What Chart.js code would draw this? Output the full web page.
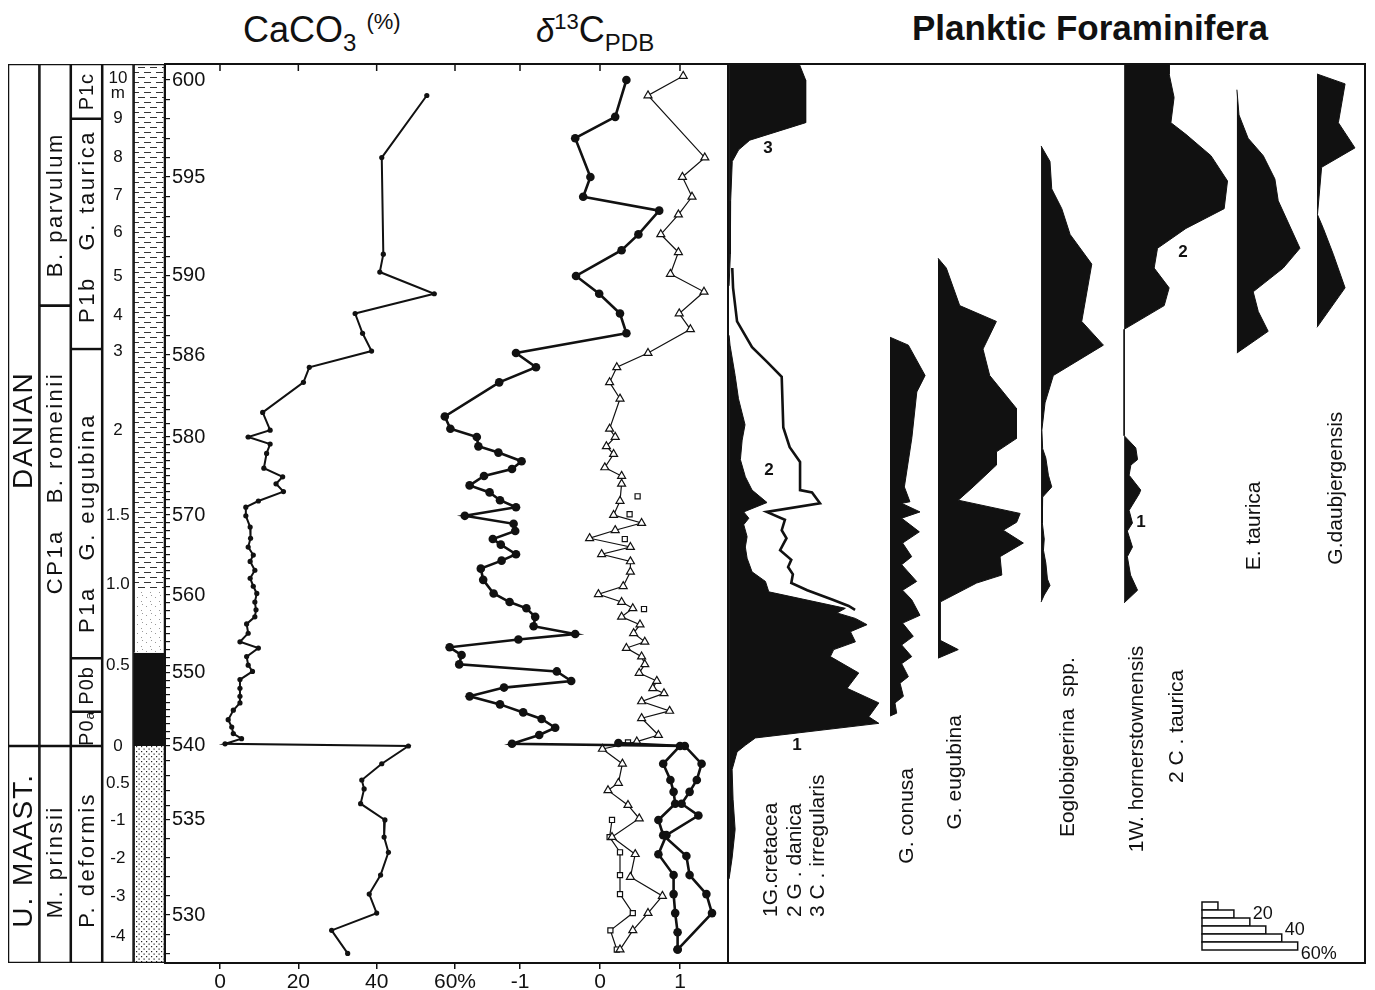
<!DOCTYPE html>
<html>
<head>
<meta charset="utf-8">
<title>CaCO3, d13C and planktic foraminifera</title>
<script src="https://cdn.jsdelivr.net/npm/chart.js@4.4.1/dist/chart.umd.min.js"></script>
<style>
  body { margin: 0; background: #fff; }
  #wrap { position: relative; width: 1375px; height: 990px; background: #fff; overflow: hidden;
          font-family: 'Liberation Sans', Arial, Helvetica, sans-serif; color: #111; }
  #wrap canvas { position: absolute; top: 0; }
  .ttl { position: absolute; white-space: nowrap; line-height: 1; }
  .ttl span { position: relative; }
</style>
</head>
<body>
<div id="wrap">
  <div class="ttl" style="left:243px; top:12px; font-size:36px;">CaCO<span style="font-size:24px; top:9px;">3</span> <span style="font-size:22px; top:-13px;">(%)</span></div>
  <div class="ttl" style="left:536px; top:12px; font-size:36px;"><i style="font-size:33px;">δ</i><span style="font-size:22px; top:-13px;">13</span>C<span style="font-size:24px; top:9px;">PDB</span></div>
  <div class="ttl" style="left:912px; top:10px; font-size:35px; font-weight:bold;">Planktic Foraminifera</div>

  <canvas id="strat" width="215" height="990" style="left:0;"></canvas>
  <canvas id="caco3" width="385" height="990" style="left:125px;"></canvas>
  <canvas id="carbon" width="383" height="990" style="left:384px;"></canvas>
  <canvas id="foram" width="640" height="990" style="left:727px;"></canvas>
</div>

<script>
// ---- depth axis: sample numbers, stretched piecewise as in the original log ----
const sampleStops = [527.5, 530, 535, 540, 550, 560, 570, 580, 586, 590, 595, 600, 600.8];
const stopHeights = [0, 0.0534, 0.1591, 0.2414, 0.3226, 0.4093, 0.4983, 0.5851, 0.6763, 0.7642, 0.8743, 0.9822, 1];
const sampleTickLabels = [530, 535, 540, 550, 560, 570, 580, 586, 590, 595, 600];

// metre scale written in the log column (position given as sample number)
const meterLabels = ['10', 'm', '9', '8', '7', '6', '5', '4', '3', '2', '1.5', '1.0', '0.5', '0', '0.5', '-1', '-2', '-3', '-4'];
const meterAt = [600.1, 599.3, 598.0, 596.0, 594.1, 592.2, 590.0, 588.0, 586.2, 580.5, 570.0, 561.3, 551.0, 540.0, 537.5, 535.0, 533.0, 531.0, 528.9];

// stratigraphic columns (label position given as sample number)
const eraNames = ['DANIAN', 'U. MAAST.'];
const eraTop = [600.8, 540];
const eraBase = [540, 527.5];
const eraLabelAt = [580.5, 533.4];
const nannoNames = ['B. parvulum', 'CP1a   B. romeinii', 'M. prinsii'];
const nannoTop = [600.8, 588.5, 540];
const nannoBase = [588.5, 540, 527.5];
const nannoLabelAt = [593.6, 574.1, 532.8];
const foramZoneNames = ['P1c', 'P1b   G. taurica', 'P1a   G. eugubina', 'P0b', 'P0ₐ', 'P. deformis'];
const foramZoneTop = [600.8, 598.0, 586.3, 551.9, 544.7, 540];
const foramZoneBase = [598.0, 586.3, 551.9, 544.7, 540, 527.5];
const foramZoneLabelAt = [599.4, 592.5, 569.0, 548.3, 542.4, 532.9];
const lithTop = [600.8, 560.5, 552.6, 540];
const lithBase = [560.5, 552.6, 540, 527.5];

// CaCO3 (%)
const caco3Sample = [599.2, 596.0, 591.1, 590.2, 589.1, 588.1, 587.1, 586.2, 585.1, 584.0, 581.8, 580.5, 580.0, 579.1, 577.9, 576.0,
  574.9, 574.0, 573.0, 571.8, 571.0, 569.9, 568.5, 567.1, 566.0, 565.0, 564.2, 563.1, 562.1, 561.1, 560.2, 559.1, 558.1, 557.2,
  556.3, 555.1, 554.0, 553.2, 552.1, 551.0, 550.2, 549.1, 547.9, 546.8, 545.9, 544.9, 543.6, 542.6, 541.7, 541.0, 540.3, 540.0,
  538.8, 537.7, 537.1, 536.1, 535.0, 534.1, 533.3, 532.1, 531.1, 530.1, 529.2, 528.0];
const caco3Pct = [52.8, 41.3, 41.7, 40.8, 54.7, 34.5, 36.4, 38.7, 22.8, 21.3, 10.9, 12.8, 7.2, 12.8, 11.9, 11.2,
  16.0, 14.3, 16.2, 9.8, 6.6, 6.6, 7.7, 7.8, 7.2, 8.5, 7.7, 8.9, 7.7, 8.5, 9.4, 8.9, 9.2, 8.9,
  6.8, 7.2, 5.1, 9.8, 6.8, 7.2, 8.3, 5.1, 5.1, 5.1, 5.1, 3.4, 2.1, 3.0, 3.4, 5.5, 1.3, 48.1,
  41.3, 36.2, 36.8, 35.9, 42.1, 41.9, 43.0, 41.0, 38.1, 40.0, 28.5, 32.6];
const caco3Ticks = [0, 20, 40, 60];

// d13C, filled circles (thick line)
const d13cBulkSample = [600.0, 598.1, 597.0, 595.0, 594.0, 593.3, 592.1, 591.3, 590.0, 589.1, 588.1, 587.1, 586.1, 585.1, 584.0,
  581.5, 580.6, 580.0, 578.8, 578.0, 576.9, 575.9, 575.0, 573.8, 572.9, 571.9, 571.0, 569.9, 568.9, 568.0, 567.0, 566.3, 565.1,
  564.3, 563.3, 561.9, 560.2, 559.1, 558.3, 557.2, 556.0, 555.0, 554.3, 553.3, 552.3, 551.1, 550.2, 548.9, 548.0, 546.8, 545.7,
  544.6, 543.7, 542.5, 541.5, 540.3, 540.0, 538.8, 537.7, 536.9, 536.1, 535.3, 534.2, 533.2, 532.1, 531.1, 530.1, 529.1, 528.2];
const d13cBulk = [0.33, 0.19, -0.31, -0.12, -0.21, 0.74, 0.48, 0.27, -0.30, -0.01, 0.25, 0.33, -1.05, -0.80, -1.26,
  -1.94, -1.87, -1.54, -1.52, -1.27, -0.98, -1.10, -1.45, -1.63, -1.38, -1.25, -1.05, -1.69, -1.08, -1.06, -1.34, -1.24, -1.05,
  -1.23, -1.49, -1.46, -1.33, -1.13, -0.92, -0.81, -0.83, -0.31, -1.02, -1.88, -1.73, -1.76, -0.54, -0.36, -1.20, -1.63, -1.25,
  -0.96, -0.73, -0.56, -0.76, -1.10, 1.06, 1.27, 1.21, 1.12, 1.02, 1.23, 0.83, 0.73, 0.92, 0.92, 0.94, 0.97, 0.97];
// second filled-circle curve in the Maastrichtian
const d13cFineSample = [540.4, 540.0, 538.8, 537.7, 536.9, 536.1, 535.0, 534.2, 533.1, 532.1, 531.1, 530.1, 528.2];
const d13cFine = [0.23, 1.00, 0.79, 0.88, 0.92, 0.94, 0.73, 0.79, 1.08, 1.12, 1.33, 1.40, 0.97];
// open triangles
const d13cTriSample = [600.2, 599.2, 596.0, 595.0, 594.0, 593.1, 592.1, 591.2, 590.1, 589.2, 588.1, 587.3, 586.1, 585.1, 584.0,
  582.8, 580.6, 580.0, 578.8, 577.8, 576.1, 575.0, 574.0, 571.8, 570.0, 569.0, 568.1, 567.1, 566.0, 565.1, 564.2, 562.9, 561.1,
  560.1, 559.1, 558.3, 557.2, 556.2, 555.1, 554.0, 553.2, 552.1, 551.1, 550.0, 548.9, 547.9, 547.2, 546.1, 544.8, 543.8, 541.5,
  540.6, 539.8, 538.8, 537.5, 537.0, 536.0, 535.1, 534.1, 533.2, 532.0, 531.0, 530.1, 529.2, 528.2];
const d13cTri = [1.04, 0.60, 1.31, 1.03, 1.15, 0.98, 0.76, 0.98, 0.88, 1.30, 0.99, 1.13, 0.60, 0.21, 0.12,
  0.25, 0.12, 0.19, 0.08, 0.17, 0.06, 0.27, 0.27, 0.25, 0.17, 0.52, 0.19, -0.13, 0.38, 0.02, 0.38, 0.38, 0.29,
  -0.02, 0.27, 0.41, 0.27, 0.50, 0.42, 0.56, 0.33, 0.52, 0.56, 0.49, 0.71, 0.66, 0.80, 0.52, 0.87, 0.52, 0.73,
  0.46, 0.03, 0.28, 0.23, 0.10, 0.35, 0.49, 0.15, 0.44, 0.38, 0.78, 0.60, 0.41, 0.25];
// open squares: scattered in the Danian, joined in the Maastrichtian
const d13cSqDanSample = [572.4, 570.1, 567.0, 558.2, 540.5];
const d13cSqDan = [0.47, 0.37, 0.31, 0.55, 0.35];
const d13cSqMaaSample = [535.0, 534.1, 533.3, 532.1, 531.1, 530.1, 529.2, 528.2];
const d13cSqMaa = [0.15, 0.12, 0.25, 0.25, 0.25, 0.41, 0.13, 0.21];
const d13cTicks = [-1, 0, 1];

// planktic foraminifera, % of assemblage
const irregularisSample = [600.8, 600.0, 597.8, 596.9, 596.4, 595.8, 593.8, 591.1, 589.5];
const irregularisPct = [44, 48, 48, 13, 6, 2, 1, 0.8, 0];
const danicaSample = [590.4, 589.4, 587.7, 586.4, 585.5, 584.4, 580.7, 578.7, 576.8, 573.2, 572.9, 571.5, 570.4, 569.4, 568.1,
  567.1, 565.6, 564.4, 563.5, 562.6, 561.5, 560.6, 559.4, 558.6, 558.1];
const danicaPct = [2, 2.5, 5, 14.4, 23.8, 33, 34, 38, 44.5, 44.5, 52, 57, 23.6, 35, 33, 36, 32, 39, 37, 40, 39, 49, 65, 75, 79];
const cretaceaSample = [587.0, 586.5, 584.5, 582.8, 580.9, 579.6, 577.1, 574.9, 573.2, 571.6, 570.4, 569.6, 568.8, 567.3, 566.0,
  564.6, 562.9, 561.7, 560.4, 558.3, 557.7, 557.0, 556.2, 555.3, 554.0, 553.0, 552.1, 550.0, 547.9, 545.9, 544.0, 543.1, 541.1,
  540.1, 539.6, 538.4, 536.4, 534.5, 533.0, 531.9];
const cretaceaPct = [0, 0.6, 3.8, 5.9, 10, 8.2, 7.1, 10.2, 14.4, 23.8, 9.2, 12.4, 9.2, 11.3, 10.2,
  11.3, 14.4, 22.8, 24.9, 72.9, 67.7, 79.2, 86.5, 76.1, 79.2, 65.6, 63.5, 81.3, 74.0, 93.9, 87.6, 93.9, 16.5,
  10.2, 5.0, 1.9, 2.5, 3.8, 1.9, 0];
const conusaSample = [586.9, 586.5, 584.5, 583.3, 579.9, 573.6, 571.7, 571.5, 570.4, 569.6, 567.9, 566.5, 564.8, 563.8, 561.7,
  560.6, 559.4, 557.4, 556.4, 554.7, 553.6, 552.1, 551.2, 549.5, 548.6, 546.8, 545.9, 544.5, 544.1];
const conusaPct = [0, 11.5, 22, 16.8, 13.7, 9, 12.5, 7.3, 18.8, 7.3, 18.4, 7.9, 13.6, 7.3, 16.7,
  7.9, 13.6, 18.8, 7.9, 14.6, 7.3, 13.6, 7.3, 11.5, 6.3, 8.4, 3.1, 4.2, 0];
const eugubinaSample = [590.9, 590.4, 588.5, 587.7, 586.3, 584.5, 582.1, 579.8, 578.1, 576.4, 573.6, 571.9, 570.2, 569.1, 568.1,
  566.5, 564.8, 562.5, 561.5, 559.1, 554.2, 553.0, 551.9];
const eugubinaPct = [0, 5.2, 13.6, 36.6, 28.2, 32.4, 49.1, 49.1, 36.6, 36.6, 22, 12.7, 51.5, 49.3, 40.9, 53.5, 38.9, 40, 24.2,
  1.3, 1.3, 12.7, 0];
const eoglobSample = [596.6, 595.8, 594.4, 593.4, 592.1, 590.6, 587.7, 586.5, 584.5, 582.5, 580.5, 578.5, 577.3, 575.1, 573.6,
  572.3, 569.0, 567.0, 565.6, 564.0, 562.0, 561.2, 560.0, 559.1];
const eoglobPct = [0, 5.6, 6.7, 13, 18.2, 31.8, 25.5, 39.1, 7.7, 2.5, 0.5, 1, 3, 4.6, 6.7, 1, 0.8, 2, 1.5, 3, 4, 5.6, 2, 0];
const cTauricaSample = [600.8, 600.3, 599.1, 597.8, 597.2, 596.1, 594.8, 593.4, 592.4, 591.4, 590.4, 589.4, 588.5, 587.3];
const cTauricaPct = [28.2, 28.2, 31.3, 29.3, 38.7, 54.4, 64.8, 62.7, 38.7, 20.9, 18.8, 28.2, 25.1, 0];
const hornerSample = [587.3, 580.1, 578.6, 577.1, 576.4, 575.1, 573.2, 572.7, 570.6, 569.0, 568.0, 566.0, 564.8, 562.5, 560.6, 559.0];
const hornerPct = [0, 0, 7.3, 8.4, 4.2, 3.1, 10.4, 9.4, 3.1, 5.2, 2, 5.2, 2, 4, 8.4, 0];
const eTauricaSample = [599.5, 598.2, 597.0, 596.1, 594.9, 593.8, 591.4, 590.4, 589.2, 588.2, 587.2, 586.1];
const eTauricaPct = [0, 1.3, 7, 16.5, 23.8, 25.9, 39.5, 29, 10.2, 13.4, 19.6, 0];
const daubjSample = [600.3, 599.8, 597.8, 596.5, 595.5, 593.1, 592.4, 591.1, 589.4, 587.4];
const daubjPct = [0, 17.6, 13.4, 23.8, 2.9, 0.3, 4, 10.2, 17.6, 0];

const speciesNames = ['1G.cretacea', '2 G . danica', '3 C . irregularis', 'G. conusa', 'G. eugubina', 'Eoglobigerina  spp.',
  '1W. hornerstownensis', '2 C . taurica', 'E. taurica', 'G.daubjergensis'];
const curveTags = ['3', '2', '1', '2', '1'];
const scaleBarSteps = [10, 20, 30, 40, 50, 60];
const scaleBarLabels = ['20', '40', '60%'];

// ---- layout of the foraminifera panel (x offsets in % units) ----
const baseCretacea = 1.3, baseConusa = 102.2, baseEugubina = 132.3, baseEoglob = 196.9,
      baseTaurica = 249, baseETaurica = 319.7, baseDaubj = 369.9;

const INK = '#111';
const FONT = "'Liberation Sans', Arial, Helvetica, sans-serif";
Chart.defaults.animation = false;
Chart.defaults.font.family = FONT;
Chart.defaults.color = INK;
Chart.defaults.plugins.legend.display = false;
Chart.defaults.plugins.tooltip.enabled = false;

function sampleFrac(v) {
  let i = 1;
  while (i < sampleStops.length - 1 && v > sampleStops[i]) i++;
  const s0 = sampleStops[i - 1], s1 = sampleStops[i];
  return stopHeights[i - 1] + (v - s0) * (stopHeights[i] - stopHeights[i - 1]) / (s1 - s0);
}
function fracSample(d) {
  let i = 1;
  while (i < stopHeights.length - 1 && d > stopHeights[i]) i++;
  const h0 = stopHeights[i - 1], h1 = stopHeights[i];
  return sampleStops[i - 1] + (d - h0) * (sampleStops[i] - sampleStops[i - 1]) / (h1 - h0);
}

// linear scale, but laid out along the stretched sample column
class SampleScale extends Chart.LinearScale {
  static id = 'sample';
  static defaults = Chart.LinearScale.defaults;
  getPixelForValue(value) {
    return this.getPixelForDecimal(sampleFrac(value));
  }
  getValueForPixel(pixel) {
    return fracSample(1 - (pixel - this.top) / this.height);
  }
}
Chart.register(SampleScale);

const sampleTickMarks = [];
for (let v = 528; v <= 600; v++) sampleTickMarks.push(v);

function depthAxis(show) {
  return {
    type: 'sample', min: 527.5, max: 600.8, display: show, position: 'right',
    afterBuildTicks: s => { s.ticks = sampleTickMarks.map(v => ({ value: v })); },
    afterFit: s => { s.width = show ? 50 : 0; },
    border: { color: INK, width: 2 },
    grid: { drawOnChartArea: false, tickLength: 5, color: INK, lineWidth: 1.2 },
    ticks: { autoSkip: false, padding: 2, font: { size: 20 }, color: INK,
             callback: v => sampleTickLabels.includes(v) ? String(v) : '' }
  };
}

function valueAxis(min, max, tickList, fmt) {
  return {
    type: 'linear', position: 'bottom', min: min, max: max,
    afterBuildTicks: s => { s.ticks = tickList.map(v => ({ value: v })); },
    afterFit: s => { s.height = 27; },
    border: { color: INK, width: 2 },
    grid: { drawOnChartArea: false, tickLength: 6, color: INK, lineWidth: 1.5 },
    ticks: { autoSkip: false, maxRotation: 0, padding: 1, font: { size: 21 }, color: INK, callback: fmt }
  };
}

// top border of the CaCO3 / d13C panels, ticks pointing in
const topRule = {
  id: 'topRule',
  afterDraw(chart) {
    const { ctx, chartArea: a } = chart;
    const xs = chart.scales.x;
    ctx.save();
    ctx.strokeStyle = INK;
    ctx.lineWidth = 2;
    ctx.beginPath();
    ctx.moveTo(a.left, a.top);
    ctx.lineTo(a.right, a.top);
    ctx.stroke();
    ctx.lineWidth = 1.5;
    xs.ticks.forEach(t => {
      const x = xs.getPixelForValue(t.value);
      ctx.beginPath();
      ctx.moveTo(x, a.top);
      ctx.lineTo(x, a.top + 7);
      ctx.stroke();
    });
    ctx.restore();
  }
};

// ---------- stratigraphic columns ----------
const stratCtx = document.getElementById('strat').getContext('2d');
function makePattern(w, h, draw) {
  const c = document.createElement('canvas');
  c.width = w; c.height = h;
  const g = c.getContext('2d');
  g.fillStyle = '#fff';
  g.fillRect(0, 0, w, h);
  draw(g);
  return stratCtx.createPattern(c, 'repeat');
}
const lithFills = [
  makePattern(12, 10, g => {
    g.strokeStyle = '#333'; g.lineWidth = 1;
    g.beginPath(); g.moveTo(0, 2.5); g.lineTo(7, 2.5); g.moveTo(6, 7.5); g.lineTo(12, 7.5); g.moveTo(0, 7.5); g.lineTo(1, 7.5); g.stroke();
  }),
  makePattern(9, 9, g => {
    g.fillStyle = '#999'; g.fillRect(2, 3, 1, 1); g.fillRect(6, 7, 1, 1); g.fillRect(7, 1, 1, 1);
  }),
  INK,
  makePattern(5, 5, g => {
    g.fillStyle = '#222'; g.fillRect(1, 1, 1.2, 1.2); g.fillRect(3.5, 3.5, 1.2, 1.2);
  })
];

function boxSet(col, top, base, label, labelAt, font, spacing, fill) {
  const data = [null, null, null, null, null];
  data[col] = [base, top];
  return {
    data: data, col: col, boxLabel: label, boxLabelAt: labelAt, boxFont: font, boxSpacing: spacing,
    backgroundColor: fill || '#fff', borderColor: INK, borderWidth: 1.6, borderSkipped: false
  };
}
const stratSets = [];
eraNames.forEach((n, i) => stratSets.push(boxSet(0, eraTop[i], eraBase[i], n, eraLabelAt[i], '28px ' + FONT, '2px')));
nannoNames.forEach((n, i) => stratSets.push(boxSet(1, nannoTop[i], nannoBase[i], n, nannoLabelAt[i], '22px ' + FONT, '2.5px')));
foramZoneNames.forEach((n, i) => stratSets.push(boxSet(2, foramZoneTop[i], foramZoneBase[i], n, foramZoneLabelAt[i],
  (n.length < 4 ? '20px ' : '22px ') + FONT, n.length < 4 ? '1px' : '2.5px')));
stratSets.push(boxSet(3, 600.8, 527.5, '', null, '', ''));
lithTop.forEach((t, i) => {
  const ds = boxSet(4, t, lithBase[i], '', null, '', '', lithFills[i]);
  ds.borderWidth = { left: 1.6, right: 1.6, top: i === 0 ? 1.6 : 0, bottom: i === lithTop.length - 1 ? 1.6 : 0 };
  stratSets.push(ds);
});

const boxText = {
  id: 'boxText',
  afterDatasetsDraw(chart) {
    const ctx = chart.ctx;
    const ys = chart.scales.y;
    ctx.save();
    ctx.fillStyle = INK;
    ctx.textAlign = 'center';
    ctx.textBaseline = 'middle';
    chart.data.datasets.forEach((ds, i) => {
      if (!ds.boxLabel) return;
      const el = chart.getDatasetMeta(i).data[ds.col];
      ctx.save();
      ctx.translate(el.x + 1, ys.getPixelForValue(ds.boxLabelAt));
      ctx.rotate(-Math.PI / 2);
      ctx.font = ds.boxFont;
      ctx.letterSpacing = ds.boxSpacing;
      ctx.fillText(ds.boxLabel, 0, 0);
      ctx.restore();
    });
    const mx = chart.scales.x.getPixelForValue(3);
    ctx.font = '17px ' + FONT;
    meterLabels.forEach((t, i) => ctx.fillText(t, mx, ys.getPixelForValue(meterAt[i])));
    ctx.restore();
  }
};

new Chart(stratCtx, {
  type: 'bar',
  data: { labels: ['stage', 'nanno', 'foram', 'metre', 'litho'], datasets: stratSets },
  options: {
    responsive: false,
    grouped: false,
    barPercentage: 1,
    categoryPercentage: 1,
    layout: { padding: { top: 64, bottom: 27, left: 8, right: 0 } },
    scales: {
      x: { type: 'category', display: false },
      y: depthAxis(true)
    }
  },
  plugins: [boxText]
});

// ---------- CaCO3 ----------
const pts = (xs, ys, off) => xs.map((v, i) => ({ x: v + (off || 0), y: ys[i] }));

new Chart(document.getElementById('caco3'), {
  type: 'line',
  data: { datasets: [{
    data: pts(caco3Pct, caco3Sample),
    borderColor: INK, borderWidth: 2, tension: 0, fill: false,
    pointRadius: 2.6, pointBackgroundColor: INK, pointBorderWidth: 0
  }] },
  options: {
    responsive: false, indexAxis: 'y',
    layout: { padding: { top: 64, bottom: 0, left: 40, right: 40 } },
    scales: {
      x: valueAxis(-14.04, 63.83, caco3Ticks, v => v === 60 ? '60%' : String(v)),
      y: depthAxis(false)
    }
  },
  plugins: [topRule]
});

// ---------- d13C ----------
new Chart(document.getElementById('carbon'), {
  type: 'line',
  data: { datasets: [
    { data: pts(d13cBulk, d13cBulkSample), borderColor: INK, borderWidth: 2.6, tension: 0, fill: false,
      pointRadius: 4.3, pointBackgroundColor: INK, pointBorderWidth: 0 },
    { data: pts(d13cFine, d13cFineSample), borderColor: INK, borderWidth: 2.6, tension: 0, fill: false,
      pointRadius: 4.3, pointBackgroundColor: INK, pointBorderWidth: 0 },
    { data: pts(d13cTri, d13cTriSample), borderColor: INK, borderWidth: 1.2, tension: 0, fill: false,
      pointStyle: 'triangle', pointRadius: 4.6, pointBackgroundColor: '#fff', pointBorderColor: INK, pointBorderWidth: 1.2 },
    { data: pts(d13cSqMaa, d13cSqMaaSample), borderColor: INK, borderWidth: 1.2, tension: 0, fill: false,
      pointStyle: 'rect', pointRadius: 3.6, pointBackgroundColor: '#fff', pointBorderColor: INK, pointBorderWidth: 1.2 },
    { data: pts(d13cSqDan, d13cSqDanSample), showLine: false, fill: false,
      pointStyle: 'rect', pointRadius: 3.6, pointBackgroundColor: '#fff', pointBorderColor: INK, pointBorderWidth: 1.2 }
  ] },
  options: {
    responsive: false, indexAxis: 'y',
    layout: { padding: { top: 64, bottom: 0, left: 40, right: 40 } },
    scales: {
      x: valueAxis(-2.2, 1.5875, d13cTicks, v => String(v)),
      y: depthAxis(false)
    }
  },
  plugins: [topRule]
});

// ---------- planktic foraminifera ----------
function areaSet(pct, smp, base) {
  return { data: pts(pct, smp, base), borderColor: INK, borderWidth: 1, backgroundColor: INK,
           tension: 0, pointRadius: 0, fill: { value: base } };
}
const foramSets = [
  { data: pts(danicaPct, danicaSample, baseCretacea), borderColor: INK, borderWidth: 2.6, tension: 0, pointRadius: 0, fill: false },
  areaSet(irregularisPct, irregularisSample, baseCretacea),
  areaSet(cretaceaPct, cretaceaSample, baseCretacea),
  areaSet(conusaPct, conusaSample, baseConusa),
  areaSet(eugubinaPct, eugubinaSample, baseEugubina),
  areaSet(eoglobPct, eoglobSample, baseEoglob),
  areaSet(cTauricaPct, cTauricaSample, baseTaurica),
  areaSet(hornerPct, hornerSample, baseTaurica),
  areaSet(eTauricaPct, eTauricaSample, baseETaurica),
  areaSet(daubjPct, daubjSample, baseDaubj)
];

// where the names and curve numbers sit (x in %, y in sample number)
const speciesX = [27.5, 42.6, 57.1, 112.9, 142.9, 213.8, 257.1, 282.1, 330.4, 381.8];
const speciesFoot = [529.9, 529.9, 529.9, 532.7, 534.5, 534.1, 533.3, 537.5, 563.1, 563.8];
const tagX = [25.7, 26.3, 43.9, 285.9, 259.6];
const tagAt = [596.5, 575.7, 540.1, 591.2, 569.1];

const foramDecor = {
  id: 'foramDecor',
  afterDraw(chart) {
    const { ctx, chartArea: a } = chart;
    const xs = chart.scales.x, ys = chart.scales.y;
    ctx.save();
    ctx.strokeStyle = INK;
    ctx.lineWidth = 2;
    ctx.strokeRect(a.left, a.top, a.right - a.left, a.bottom - a.top);
    ctx.lineWidth = 3;
    ctx.beginPath(); ctx.moveTo(a.left + 0.5, a.top); ctx.lineTo(a.left + 0.5, a.bottom); ctx.stroke();

    ctx.fillStyle = INK;
    ctx.font = '21px ' + FONT;
    ctx.textAlign = 'left';
    ctx.textBaseline = 'middle';
    speciesNames.forEach((n, i) => {
      ctx.save();
      ctx.translate(xs.getPixelForValue(speciesX[i]), ys.getPixelForValue(speciesFoot[i]));
      ctx.rotate(-Math.PI / 2);
      ctx.fillText(n, 0, 0);
      ctx.restore();
    });

    ctx.textAlign = 'center';
    ctx.font = 'bold 17px ' + FONT;
    curveTags.forEach((t, i) => ctx.fillText(t, xs.getPixelForValue(tagX[i]), ys.getPixelForValue(tagAt[i])));

    // abundance scale bar
    const x0 = xs.getPixelForValue(297.8);
    const rowH = 8;
    const yTop = a.bottom - 13 - rowH * scaleBarSteps.length;
    ctx.lineWidth = 1.5;
    ctx.fillStyle = '#fff';
    scaleBarSteps.forEach((p, i) => {
      const w = xs.getPixelForValue(297.8 + p) - x0;
      ctx.fillRect(x0, yTop + i * rowH, w, rowH);
      ctx.strokeRect(x0, yTop + i * rowH, w, rowH);
    });
    ctx.fillStyle = INK;
    ctx.font = '18px ' + FONT;
    ctx.textAlign = 'left';
    scaleBarLabels.forEach((t, i) => {
      const row = Math.min(2 * i + 2, scaleBarSteps.length - 1);
      const x = xs.getPixelForValue(297.8 + scaleBarSteps[row]) + 3;
      const y = yTop + (2 * i + 1) * rowH + rowH / 2 + (i === 2 ? rowH : 0);
      ctx.fillText(t, x, y);
    });
    ctx.restore();
  }
};

new Chart(document.getElementById('foram'), {
  type: 'line',
  data: { datasets: foramSets },
  options: {
    responsive: false, indexAxis: 'y',
    layout: { padding: { top: 64, bottom: 27, left: 0, right: 2 } },
    scales: {
      x: { type: 'linear', min: 0, max: 400, display: false },
      y: depthAxis(false)
    }
  },
  plugins: [foramDecor]
});
</script>
</body>
</html>
